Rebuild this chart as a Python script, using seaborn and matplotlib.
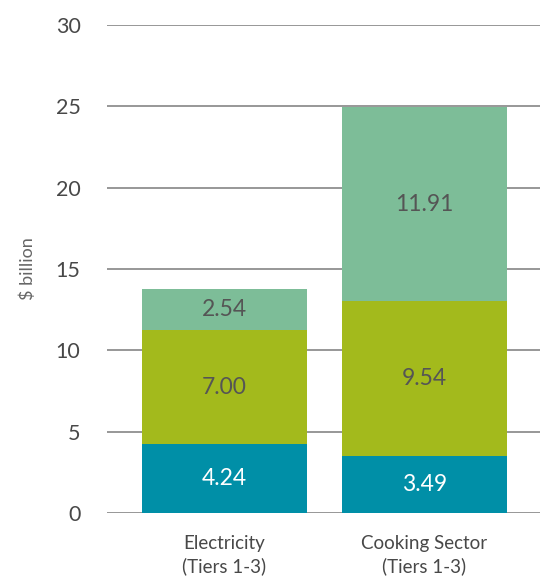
import matplotlib
matplotlib.use("Agg")
import matplotlib.pyplot as plt
import seaborn as sns
import pandas as pd
import numpy as np

categories = ["Electricity\n(Tiers 1-3)", "Cooking Sector\n(Tiers 1-3)"]
bottom_seg = [4.24, 3.49]
middle_seg = [7.00, 9.54]
top_seg = [2.54, 11.91]
y_ticks = [0, 5, 10, 15, 20, 25, 30]

sns.set_theme(style="white")
plt.rcParams["font.family"] = ["Lato", "DejaVu Sans"]

fig = plt.figure(figsize=(5.4, 5.78), dpi=100)
ax = fig.add_axes([0.198, 0.1125, 0.802, 0.8442])

colors = ["#008FA7", "#A3BA1C", "#7DBD98"]
layers = [bottom_seg, middle_seg, top_seg]
text_colors = ["white", "#555555", "#555555"]

base = np.zeros(len(categories))
for vals, col, tcol in zip(layers, colors, text_colors):
    df = pd.DataFrame({"cat": categories, "val": vals})
    sns.barplot(data=df, x="cat", y="val", color=col, bottom=base,
                width=0.825, saturation=1, ax=ax, zorder=3, linewidth=0)
    for i, v in enumerate(vals):
        ax.text(i, base[i] + v / 2, f"{v:.2f}", ha="center", va="center",
                color=tcol, fontsize=16.5, zorder=4)
    base = base + np.array(vals)

ax.set_ylim(0, 30)
ax.set_xlim(-0.5875, 1.5775)
ax.set_yticks(y_ticks)
ax.yaxis.grid(True, color="#7a7a7a", linewidth=1.1, zorder=0)
ax.set_axisbelow(True)
for s in ax.spines.values():
    s.set_visible(False)
ax.tick_params(axis="y", length=0, pad=19, labelsize=15.5, labelcolor="#484848")
ax.tick_params(axis="x", length=0, pad=16, labelsize=13.5, labelcolor="#484848")
for lbl in ax.get_xticklabels():
    lbl.set_linespacing(1.35)
ax.set_xlabel("")
ax.set_ylabel("$ billion", fontsize=13, color="#666666", labelpad=14)

fig.savefig("out.png", dpi=100)
